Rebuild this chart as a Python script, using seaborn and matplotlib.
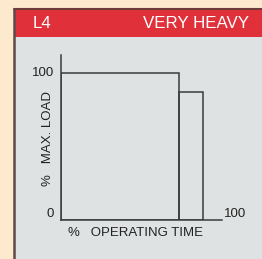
import matplotlib
matplotlib.use("Agg")
import matplotlib.pyplot as plt
import seaborn as sns
from matplotlib.patches import Rectangle

# duty cycle blocks: start / end of each block in % operating time, load in % max load
block_start = [0, 73]
block_end = [73, 88]
block_load = [100, 87]
bin_edges = [0, 73, 88]

header_code = "L4"
header_title = "VERY HEAVY"
x_label = "%   OPERATING TIME"
y_label = "%   MAX. LOAD"

W, H = 262, 259
sns.set_theme(style="white")
plt.rcParams["font.family"] = ["Liberation Sans", "DejaVu Sans"]

fig = plt.figure(figsize=(W / 100, H / 100), dpi=100)
fig.patch.set_facecolor("#fde9cd")


def fx(px):
    return px / W


def fy(py):
    return 1 - py / H


# grey panel and red header
fig.patches.append(Rectangle((fx(14), 0), 1 - fx(14), fy(9), transform=fig.transFigure,
                             facecolor="#dfe2e2", edgecolor="none", zorder=-3))
fig.patches.append(Rectangle((fx(14), fy(37)), 1 - fx(14), fy(9) - fy(37), transform=fig.transFigure,
                             facecolor="#e0313a", edgecolor="none", zorder=-2))
# dark frame on left and top
fig.add_artist(plt.Line2D([fx(14), fx(14)], [0, fy(8.5)], transform=fig.transFigure,
                          color="#5e4a4a", lw=1.8, zorder=-1))
fig.add_artist(plt.Line2D([fx(13.5), 1], [fy(9), fy(9)], transform=fig.transFigure,
                          color="#6e3a3a", lw=1.5, zorder=-1))

fig.text(fx(33), fy(23.5), header_code, color="white", fontsize=12.2, va="center", ha="left")
fig.text(fx(249), fy(23.5), header_title, color="white", fontsize=12.2, va="center", ha="right")

ax = fig.add_axes([fx(61), fy(220), fx(222) - fx(61), fy(55) - fy(220)])
ax.set_zorder(2)
ax.set_facecolor("none")

mids = [(s + e) / 2 for s, e in zip(block_start, block_end)]
sns.histplot(x=mids, weights=block_load, bins=bin_edges, fill=False,
             color="#3a3a3a", linewidth=1.1, ax=ax)

ax.set_xlim(0, 100)
ax.set_ylim(0, 112)
ax.set_xticks([])
ax.set_yticks([])
ax.set_xlabel("")
ax.set_ylabel("")
for side in ["top", "right"]:
    ax.spines[side].set_visible(False)
for side in ["left", "bottom"]:
    ax.spines[side].set_color("#3a3a3a")
    ax.spines[side].set_linewidth(1.1)

fs = 9.5
ax.text(-4.5, 100, "100", fontsize=fs, ha="right", va="center", color="#222222")
ax.text(-4.5, 0, "0", fontsize=fs, ha="right", va="bottom", color="#222222")
ax.text(101.5, 0, "100", fontsize=fs, ha="left", va="bottom", color="#222222")

fig.text(fx(136), fy(233), x_label, fontsize=fs, ha="center", va="center", color="#222222")
fig.text(fx(48), fy(138), y_label, fontsize=fs, ha="center", va="center", rotation=90, color="#222222")

fig.savefig("out.png", dpi=100, facecolor=fig.get_facecolor())
